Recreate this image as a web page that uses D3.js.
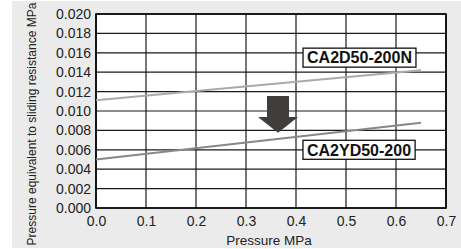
<!DOCTYPE html>
<html>
<head>
<meta charset="UTF-8">
<title>sliding resistance</title>
<script src="https://cdn.jsdelivr.net/npm/d3@7"></script>
<style>
  body { margin: 0; background: #fff; }
  text { font-family: "Liberation Sans", Arial, sans-serif; }
</style>
</head>
<body>
<div id="chart"></div>
<script>
// data
const seriesNames = ["CA2D50-200N", "CA2YD50-200"];
const pressure = [0.0, 0.65];
const ca2d = [0.0111, 0.0142];
const ca2yd = [0.0050, 0.0088];
const xTicks = [0, 0.1, 0.2, 0.3, 0.4, 0.5, 0.6, 0.7];
const yTicks = [0, 0.002, 0.004, 0.006, 0.008, 0.010, 0.012, 0.014, 0.016, 0.018, 0.020];

const width = 461, height = 249;
const marginTop = 14, marginRight = 15, marginBottom = 41, marginLeft = 96;

const svg = d3.select("#chart").append("svg")
  .attr("width", width)
  .attr("height", height);

svg.append("rect")
  .attr("x", 12).attr("y", 1)
  .attr("width", width - 12).attr("height", height - 2)
  .attr("fill", "#ebebeb");

const x = d3.scaleLinear().domain([0, 0.7]).range([marginLeft, width - marginRight]);
const y = d3.scaleLinear().domain([0, 0.020]).range([height - marginBottom, marginTop]);

svg.append("rect")
  .attr("x", x(0)).attr("y", y(0.020))
  .attr("width", x(0.7) - x(0)).attr("height", y(0) - y(0.020))
  .attr("fill", "#fff");

// grid
svg.append("g")
  .selectAll("line")
  .data(xTicks)
  .join("line")
  .attr("x1", d => x(d)).attr("x2", d => x(d))
  .attr("y1", y(0)).attr("y2", y(0.020))
  .attr("stroke", "#1a1a1a").attr("stroke-width", 1.2);

svg.append("g")
  .selectAll("line")
  .data(yTicks)
  .join("line")
  .attr("x1", x(0)).attr("x2", x(0.7))
  .attr("y1", d => y(d)).attr("y2", d => y(d))
  .attr("stroke", "#1a1a1a").attr("stroke-width", 1.2);

svg.append("rect")
  .attr("x", x(0)).attr("y", y(0.020))
  .attr("width", x(0.7) - x(0)).attr("height", y(0) - y(0.020))
  .attr("fill", "none").attr("stroke", "#000").attr("stroke-width", 1.6);

// axes (labels only)
const xAxis = svg.append("g")
  .attr("transform", "translate(0," + y(0) + ")")
  .call(d3.axisBottom(x).tickValues(xTicks).tickFormat(d3.format(".1f")).tickSize(0).tickPadding(8.5));
const yAxis = svg.append("g")
  .attr("transform", "translate(" + x(0) + ",0)")
  .call(d3.axisLeft(y).tickValues(yTicks).tickFormat(d3.format(".3f")).tickSize(0).tickPadding(5));
[xAxis, yAxis].forEach(a => {
  a.select(".domain").remove();
  a.selectAll("text").attr("font-size", 14).attr("fill", "#222")
    .attr("font-family", "Liberation Sans, Arial, sans-serif");
});

// lines
const line = d3.line().x(d => x(d[0])).y(d => y(d[1]));
svg.append("path")
  .datum(d3.zip(pressure, ca2d))
  .attr("d", line)
  .attr("fill", "none").attr("stroke", "#aaaaaa").attr("stroke-width", 2);
svg.append("path")
  .datum(d3.zip(pressure, ca2yd))
  .attr("d", line)
  .attr("fill", "none").attr("stroke", "#888888").attr("stroke-width", 2);

// labels
function label(txt, px, py) {
  const g = svg.append("g");
  const t = g.append("text")
    .attr("x", x(px)).attr("y", y(py))
    .attr("text-anchor", "middle").attr("dy", "0.36em")
    .attr("font-size", 16).attr("font-weight", "bold").attr("fill", "#111")
    .text(txt);
  const b = t.node().getBBox();
  g.insert("rect", "text")
    .attr("x", b.x - 4).attr("y", y(py) - 9.5)
    .attr("width", b.width + 8).attr("height", 19)
    .attr("fill", "#fff").attr("stroke", "#111").attr("stroke-width", 1.3);
}
label(seriesNames[0], 0.527, 0.0155);
label(seriesNames[1], 0.526, 0.0060);

// arrow
const ax = x(0.364), arrowTop = y(0.01155), neck = y(0.00938), tip = y(0.00776);
svg.append("path")
  .attr("d", "M" + (ax - 11) + "," + arrowTop + "H" + (ax + 11) + "V" + neck + "H" + (ax + 20)
    + "L" + ax + "," + tip + "L" + (ax - 20) + "," + neck + "H" + (ax - 11) + "Z")
  .attr("fill", "#413d3b");

// axis titles
svg.append("text")
  .attr("x", (x(0) + x(0.7)) / 2 - 2).attr("y", 245)
  .attr("text-anchor", "middle").attr("font-size", 13.5).attr("fill", "#222")
  .text("Pressure MPa");
svg.append("text")
  .attr("transform", "translate(36,124) rotate(-90)")
  .attr("text-anchor", "middle").attr("font-size", 12).attr("fill", "#222")
  .text("Pressure equivalent to sliding resistance MPa");
</script>
</body>
</html>
